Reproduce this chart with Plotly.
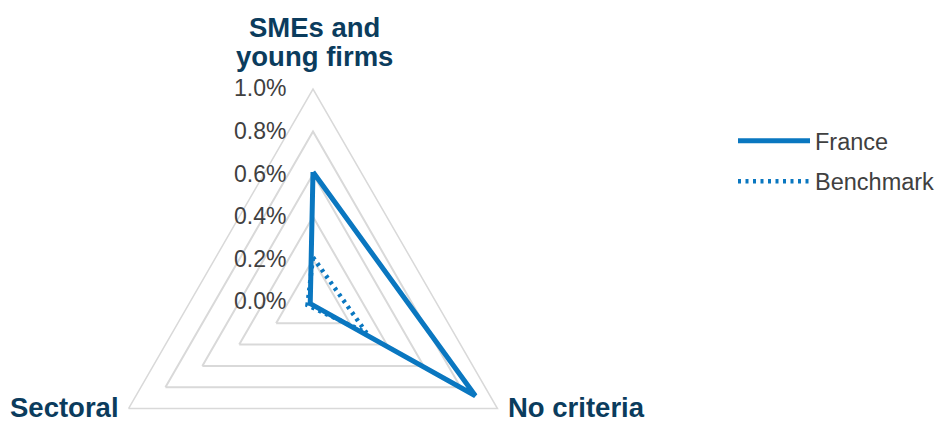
import plotly.graph_objects as go

# ---- data ----
categories = ["SMEs and young firms", "No criteria", "Sectoral"]
france = [0.0061, 0.0088, 0.00015]
benchmark = [0.0021, 0.0029, 0.0003]
radial_ticks = [0.0, 0.002, 0.004, 0.006, 0.008, 0.010]
series_names = ["France", "Benchmark"]

BLUE = "#0a77c0"
NAVY = "#0b3c5d"
GRID = "#d9d9d9"
FONT = "Liberation Sans, Arial, sans-serif"

W, H = 937, 515

def closed(vals):
    return list(vals) + [vals[0]]

fig = go.Figure()
fig.add_trace(go.Scatterpolar(
    r=closed(france), theta=closed(categories), mode="lines",
    name=series_names[0], legendgroup="a",
    line=dict(color=BLUE, width=5), hoverinfo="skip"))
fig.add_trace(go.Scatterpolar(
    r=closed(benchmark), theta=closed(categories), mode="lines",
    name=series_names[1], legendgroup="b",
    line=dict(color=BLUE, width=4.5, dash="3px,4.5px"), hoverinfo="skip"))

cx, cy, R = 313, 302, 213

def py(ypx):
    return (H - ypx) / H

lab_font = dict(size=27.5, color=NAVY, family=FONT, weight="bold")
annotations = [
    dict(text="SMEs and", x=314 / W, y=py(27), xref="paper", yref="paper",
         xanchor="center", yanchor="middle", showarrow=False, font=lab_font),
    dict(text="young firms", x=314 / W, y=py(56), xref="paper", yref="paper",
         xanchor="center", yanchor="middle", showarrow=False, font=lab_font),
    dict(text=categories[2], x=121 / W, y=py(407), xref="paper", yref="paper",
         xanchor="right", yanchor="middle", showarrow=False, font=lab_font),
    dict(text=categories[1], x=506 / W, y=py(407), xref="paper", yref="paper",
         xanchor="left", yanchor="middle", showarrow=False, font=lab_font),
]

fig.update_layout(
    width=W, height=H, autosize=False,
    margin=dict(l=0, r=0, t=0, b=0, autoexpand=False),
    paper_bgcolor="white", plot_bgcolor="white",
    font=dict(family=FONT),
    polar=dict(
        domain=dict(x=[(cx - R) / W, (cx + R) / W],
                    y=[(H - cy - R) / H, (H - cy + R) / H]),
        bgcolor="white",
        gridshape="linear",
        radialaxis=dict(
            range=[0, 0.010], tickvals=radial_ticks, tickformat=".1%",
            angle=90, tickangle=90, side="counterclockwise",
            showline=False, ticks="outside", ticklen=18,
            tickcolor="rgba(0,0,0,0)",
            gridcolor=GRID, gridwidth=1.5,
            tickfont=dict(size=23, color="#404040", family=FONT)),
        angularaxis=dict(
            rotation=90, direction="clockwise",
            showgrid=False, showline=True, linecolor=GRID, linewidth=1.5,
            ticks="", showticklabels=False),
    ),
    annotations=annotations,
    legend=dict(
        x=733 / W, xanchor="left", y=(H - 119) / H, yanchor="top",
        font=dict(size=23.5, color="#404040", family=FONT),
        tracegroupgap=7, itemwidth=72, bgcolor="rgba(0,0,0,0)"),
    showlegend=True,
)

fig.write_html("out.html", post_script="document.body.style.overflow='hidden';document.documentElement.style.overflow='hidden';")
